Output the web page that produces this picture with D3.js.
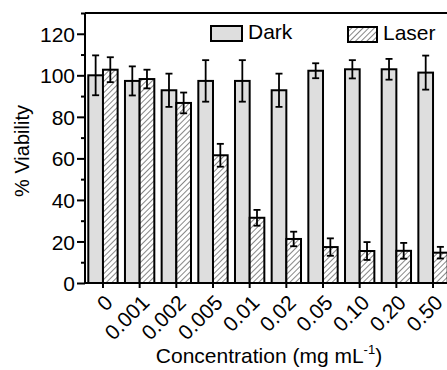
<!DOCTYPE html>
<html><head><meta charset="utf-8">
<script src="https://cdn.jsdelivr.net/npm/d3@7"></script>
<style>body{margin:0;background:#fff}svg{display:block}text{font-family:"Liberation Sans",Arial,sans-serif;fill:#000}</style>
</head><body>
<svg id="c" width="447" height="370"></svg>
<script>
const categories = ["0","0.001","0.002","0.005","0.01","0.02","0.05","0.10","0.20","0.50"];
const seriesNames = ["Dark","Laser"];
const darkValues = [100, 97.3, 92.8, 97.3, 97.3, 92.8, 102.2, 102.9, 102.9, 101.3];
const darkErrors = [9.6, 7, 8, 10, 10, 8, 3.6, 4.4, 5, 8.2];
const laserValues = [102.7, 98.2, 86.7, 61.5, 31.4, 21.2, 17.3, 15.4, 15.5, 14.6];
const laserErrors = [6, 4.5, 5, 5.5, 3.8, 3.5, 4.2, 4.3, 3.8, 2.8];
const yTicks = [0, 20, 40, 60, 80, 100, 120];
const yMinorTicks = [10, 30, 50, 70, 90, 110, 130];

const svg = d3.select("#c");
const L = 85, R = 451, T = 13, B = 283;
const x0 = d3.scaleBand().domain(categories).range([L, R]).paddingInner(0.2).paddingOuter(0.09);
const x1 = d3.scaleBand().domain(seriesNames).range([0, x0.bandwidth()]);
const y = d3.scaleLinear().domain([0, 130]).range([B, T]);

const defs = svg.append("defs");
const pat = defs.append("pattern").attr("id","hatch").attr("patternUnits","userSpaceOnUse")
  .attr("width",4).attr("height",4).attr("patternTransform","rotate(45)");
pat.append("rect").attr("width",4).attr("height",4).attr("fill","#fff");
pat.append("line").attr("x1",0).attr("y1",0).attr("x2",0).attr("y2",4).attr("stroke","#222").attr("stroke-width",1.1);

const data = categories.map((c,i)=>({c, vals:[
  {s:"Dark", v:darkValues[i], e:darkErrors[i]},
  {s:"Laser", v:laserValues[i], e:laserErrors[i]}]}));

const fills = {Dark:"#dedede", Laser:"url(#hatch)"};
const g = svg.append("g").selectAll("g").data(data).join("g")
  .attr("transform", d=>`translate(${x0(d.c)},0)`);
g.selectAll("rect").data(d=>d.vals).join("rect")
  .attr("x", d=>x1(d.s)).attr("y", d=>y(d.v))
  .attr("width", x1.bandwidth()).attr("height", d=>y(0)-y(d.v))
  .attr("fill", d=>fills[d.s]).attr("stroke","#000").attr("stroke-width",2);
const eb = g.selectAll("g.eb").data(d=>d.vals).join("g").attr("class","eb")
  .attr("transform", d=>`translate(${x1(d.s)+x1.bandwidth()/2},0)`);
eb.append("line").attr("y1",d=>y(d.v+d.e)).attr("y2",d=>y(d.v-d.e)).attr("stroke","#000").attr("stroke-width",1.8);
eb.append("line").attr("x1",-3.5).attr("x2",3.5).attr("y1",d=>y(d.v+d.e)).attr("y2",d=>y(d.v+d.e)).attr("stroke","#000").attr("stroke-width",1.8);
eb.append("line").attr("x1",-3.5).attr("x2",3.5).attr("y1",d=>y(d.v-d.e)).attr("y2",d=>y(d.v-d.e)).attr("stroke","#000").attr("stroke-width",1.8);

// frame
svg.append("line").attr("x1",L).attr("x2",R).attr("y1",T).attr("y2",T).attr("stroke","#000").attr("stroke-width",2);
svg.append("line").attr("x1",R).attr("x2",R).attr("y1",T).attr("y2",B).attr("stroke","#000").attr("stroke-width",2);

// y axis
const ya = svg.append("g").attr("transform",`translate(${L},0)`)
  .call(d3.axisLeft(y).tickValues(yTicks).tickSize(8).tickPadding(2).tickSizeOuter(0));
ya.selectAll(".tick line").attr("stroke-width",2);
ya.selectAll(".tick text").attr("font-size",21).attr("dy","0.36em");
ya.select(".domain").attr("stroke-width",2).attr("d",`M0,${B}V${T}`);
svg.append("g").attr("transform",`translate(${L},0)`)
  .call(d3.axisLeft(y).tickValues(yMinorTicks).tickSize(4).tickFormat(""))
  .call(s=>{s.select(".domain").remove(); s.selectAll("line").attr("stroke-width",2);});

// x axis
const xa = svg.append("g").attr("transform",`translate(0,${B})`)
  .call(d3.axisBottom(x0).tickSize(5).tickSizeOuter(0));
xa.select(".domain").attr("stroke-width",2).attr("d",`M${L},0H${R}`);
xa.selectAll(".tick line").attr("stroke-width",2);
xa.selectAll(".tick text").attr("font-size",21).attr("text-anchor","end")
  .attr("x",0).attr("y",0).attr("dy",0)
  .attr("transform","translate(11,21) rotate(-45)");

// legend
const leg = [{s:"Dark",x:211,y:26,w:31},{s:"Laser",x:348,y:27,w:29}];
leg.forEach(l=>{
  svg.append("rect").attr("x",l.x).attr("y",l.y).attr("width",l.w).attr("height",15)
    .attr("fill",fills[l.s]).attr("stroke","#000").attr("stroke-width",2);
  svg.append("text").attr("x",l.x+l.w+6).attr("y",l.y+13).attr("font-size",21).text(l.s);
});

// titles
svg.append("text").attr("transform",`translate(29,151) rotate(-90)`)
  .attr("text-anchor","middle").attr("font-size",20).text("% Viability");
const xt = svg.append("text").attr("x",269).attr("y",363).attr("text-anchor","middle").attr("font-size",21);
xt.append("tspan").text("Concentration (mg mL");
xt.append("tspan").attr("font-size",13).attr("dy",-9).text("-1");
xt.append("tspan").attr("dy",9).text(")");
</script>
</body></html>
